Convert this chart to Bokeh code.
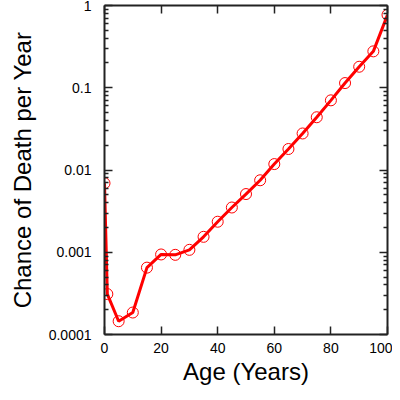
from bokeh.plotting import figure
from bokeh.models import Range1d, LinearAxis, LogAxis, FixedTicker
from bokeh.embed import file_html
from bokeh.resources import INLINE

ages = [0, 1, 5, 10, 15, 20, 25, 30, 35, 40, 45, 50, 55, 60, 65, 70, 75, 80, 85, 90, 95, 100]
death_rate = [0.0069, 0.00031, 0.000145, 0.000185, 0.00065, 0.00094, 0.00093, 0.00107,
              0.00154, 0.00235, 0.0035, 0.0051, 0.0075, 0.0118, 0.018, 0.0278, 0.0438,
              0.0703, 0.114, 0.18, 0.277, 0.77]
x_ticks = [0, 20, 40, 60, 80, 100]
y_ticks = [0.0001, 0.001, 0.01, 0.1, 1]
y_tick_labels = ["0.0001", "0.001", "0.01", "0.1", "1"]
y_minor_mult = [2, 3, 4, 5, 6, 7, 8, 9]
x_label = "Age (Years)"
y_label = "Chance of Death per Year"

FONT = "Liberation Sans"
AX = "#222222"

y_minor = [d * m for d in y_ticks[:-1] for m in y_minor_mult]

p = figure(width=387, height=387, y_axis_type="log",
           x_range=Range1d(0, 100), y_range=Range1d(1e-4, 1),
           output_backend="svg", toolbar_location=None,
           margin=(0, 0, 0, 5))
p.outline_line_color = None
p.grid.visible = False

p.line(ages, death_rate, line_color="#ff0000", line_width=3)
p.scatter(ages, death_rate, size=11, marker="circle", fill_color=None,
          line_color="#ff0000", line_width=1)


def style(ax):
    ax.axis_line_color = AX
    ax.axis_line_width = 2
    ax.major_tick_line_color = AX
    ax.major_tick_line_width = 1.5
    ax.minor_tick_line_color = AX
    ax.minor_tick_line_width = 1.5
    ax.major_tick_in = 8
    ax.major_tick_out = 0
    ax.minor_tick_in = 4
    ax.minor_tick_out = 0
    ax.major_label_text_font = FONT
    ax.major_label_text_font_size = "14px"
    ax.major_label_text_color = "black"
    ax.axis_label_text_font = FONT
    ax.axis_label_text_font_style = "normal"
    ax.axis_label_text_font_size = "24px"
    ax.axis_label_text_color = "black"


xa = p.xaxis[0]
style(xa)
xa.ticker = FixedTicker(ticks=x_ticks)
xa.minor_tick_line_color = None
xa.major_label_standoff = 8
xa.axis_label = x_label
xa.axis_label_standoff = 2

ya = p.yaxis[0]
style(ya)
ya.ticker = FixedTicker(ticks=y_ticks, minor_ticks=y_minor)
ya.major_label_overrides = dict(zip(y_ticks, y_tick_labels))
ya.major_label_standoff = 13
ya.axis_label = y_label
ya.axis_label_standoff = 10

top = LinearAxis(ticker=FixedTicker(ticks=x_ticks))
style(top)
top.minor_tick_line_color = None
top.major_label_standoff = 15
top.major_label_overrides = {t: "" for t in x_ticks}
p.add_layout(top, "above")

right = LogAxis(ticker=FixedTicker(ticks=y_ticks, minor_ticks=y_minor))
style(right)
right.major_label_standoff = 11
right.major_label_overrides = {t: "" for t in y_ticks}
p.add_layout(right, "right")

open("out.html", "w").write(file_html(p, INLINE))
